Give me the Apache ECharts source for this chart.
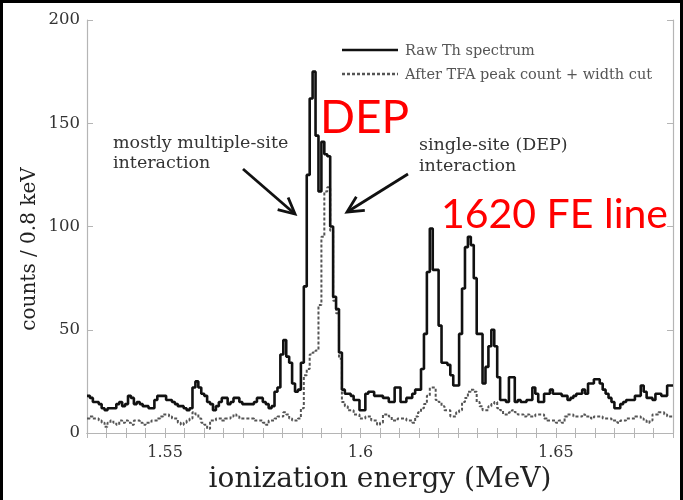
<!DOCTYPE html>
<html>
<head>
<meta charset="utf-8">
<script src="https://cdn.jsdelivr.net/npm/echarts@6/dist/echarts.min.js"></script>
<style>
html,body{margin:0;padding:0;background:#fff;}
#chart{width:683px;height:500px;}
</style>
</head>
<body>
<div id="chart"></div>
<script>
// ---- data ----
var X_START = 1.53;          // MeV, left edge of first bin
var BIN_WIDTH = 0.00075;     // MeV per bin
var xTickLabels = [1.55, 1.6, 1.65];
var yTicks = [0, 50, 100, 150, 200];
var seriesNames = ['Raw Th spectrum', 'After TFA peak count + width cut'];

var rawCounts = [
 18,17,15,15,14,12,11,12,12,12,
 14,15,13,14,18,17,14,15,14,13,
 13,12,12,16,18,18,18,16,16,15,
 14,13,13,12,11,12,22,25,22,19,
 18,15,14,11,13,15,17,17,14,15,
 17,17,15,14,14,14,14,15,17,17,
 15,14,12,13,20,22,38,45,37,34,
 24,20,21,34,71,125,162,175,144,117,
 141,135,134,100,66,60,39,21,19,19,
 18,16,16,11,11,19,20,20,18,18,
 18,17,17,15,15,22,22,15,15,17,
 17,19,21,21,31,48,78,99,79,79,
 52,34,34,33,28,23,23,48,70,90,
 95,91,75,48,48,24,32,42,50,42,
 27,16,16,15,27,27,15,16,15,15,
 16,16,22,19,15,15,19,19,21,19,
 19,19,18,18,16,17,18,19,19,21,
 19,24,24,26,26,24,21,19,17,15,
 12,12,14,15,16,16,16,18,18,23,
 20,17,17,16,19,19,18,18,23,23
];

var cutCounts = [
 7,8,7,7,6,5,3,5,6,5,
 4,6,5,6,5,4,6,6,5,4,
 5,5,6,6,7,8,9,9,8,7,
 7,5,4,5,6,7,10,9,7,5,
 4,2,6,6,7,7,6,7,7,8,
 9,8,7,7,7,7,7,6,6,6,
 5,4,6,6,7,8,8,10,9,7,
 6,6,7,12,28,31,38,39,40,62,
 95,117,119,98,64,58,36,15,13,11,
 11,9,9,7,7,8,8,6,6,4,
 5,9,9,8,6,6,7,7,7,6,
 6,5,8,10,12,14,18,22,22,16,
 15,13,11,11,8,8,10,11,15,17,
 20,21,20,15,13,11,11,13,14,15,
 12,11,9,9,10,11,10,9,9,8,
 9,8,8,9,9,9,7,6,6,6,
 5,6,5,8,9,9,8,8,8,9,
 8,8,7,8,8,8,7,7,7,6,
 6,5,6,6,7,7,7,8,8,7,
 6,5,6,9,9,10,10,9,8,8
];

function toSteps(counts){
  var pts = [];
  for (var i = 0; i < counts.length; i++) {
    pts.push([X_START + i * BIN_WIDTH, counts[i]]);
  }
  pts.push([X_START + counts.length * BIN_WIDTH, counts[counts.length - 1]]);
  return pts;
}
var X_END = X_START + rawCounts.length * BIN_WIDTH;

var serif = 'DejaVu Serif';
var axisGrey = '#b5b5b5';
var rawStyle = {color:'#111', width:2.6};
var cutStyle = {color:'#555', width:2, type:[3,2]};

var chart = echarts.init(document.getElementById('chart'));

function arrow(tail, tip){
  var dx = tip[0]-tail[0], dy = tip[1]-tail[1];
  var L = Math.sqrt(dx*dx+dy*dy); var ux = dx/L, uy = dy/L;
  var hl = 16, hw = 8;
  var bx = tip[0]-ux*hl, by = tip[1]-uy*hl;
  var p1 = [bx - uy*hw, by + ux*hw], p2 = [bx + uy*hw, by - ux*hw];
  return [
    {type:'line', shape:{x1:tail[0],y1:tail[1],x2:tip[0]-ux*2,y2:tip[1]-uy*2}, style:{stroke:'#111',lineWidth:2.8}},
    {type:'polyline', shape:{points:[p1, tip, p2]}, style:{stroke:'#111',lineWidth:2.8,fill:null}}
  ];
}

var graphics = [
  {type:'rect', shape:{x:1.5,y:1.5,width:680,height:530}, style:{fill:null,stroke:'#000',lineWidth:3}},
  // y axis title
  {type:'text', x:30, y:249, rotation:Math.PI/2, style:{text:'counts / 0.8 keV', font:'20px "DejaVu Serif"', fill:'#222', align:'center', verticalAlign:'middle'}},
  // legend
  {type:'line', shape:{x1:342,y1:50,x2:398,y2:50}, style:{stroke:rawStyle.color,lineWidth:2.6}},
  {type:'line', shape:{x1:342,y1:74,x2:398,y2:74}, style:{stroke:cutStyle.color,lineWidth:2.6,lineDash:[3,2]}},
  {type:'text', x:405, y:51, style:{text:seriesNames[0], font:'14.5px "DejaVu Serif"', fill:'#555', verticalAlign:'middle'}},
  {type:'text', x:405, y:75, style:{text:seriesNames[1], font:'14.5px "DejaVu Serif"', fill:'#555', verticalAlign:'middle'}},
  // annotations
  {type:'text', x:113, y:143, style:{text:'mostly multiple-site', font:'17.5px "DejaVu Serif"', fill:'#333', verticalAlign:'middle'}},
  {type:'text', x:113, y:163, style:{text:'interaction', font:'17.5px "DejaVu Serif"', fill:'#333', verticalAlign:'middle'}},
  {type:'text', x:419, y:145, style:{text:'single-site (DEP)', font:'17.5px "DejaVu Serif"', fill:'#333', verticalAlign:'middle'}},
  {type:'text', x:419, y:166, style:{text:'interaction', font:'17.5px "DejaVu Serif"', fill:'#333', verticalAlign:'middle'}},
  {type:'text', left:320, top:95, style:{text:'DEP', font:'46px Lato', fill:'#ff0000'}},
  {type:'text', left:441, top:194, style:{text:'1620 FE line', font:'41px Lato', fill:'#ff0000'}}
].concat(arrow([243,169],[295,214])).concat(arrow([408,174],[347,212]));

var option = {
  backgroundColor:'#fff',
  animation:false,
  grid:{left:87, right:10, top:20, bottom:67, containLabel:false},
  xAxis:[{
    type:'value', min:X_START, max:X_END, interval:0.005,
    axisLine:{show:true, lineStyle:{color:axisGrey, width:1.2}},
    axisTick:{show:true, inside:true, length:5, lineStyle:{color:axisGrey}},
    axisLabel:{show:true, customValues:xTickLabels, formatter:function(v){return String(Math.round(v*100)/100);}, fontFamily:serif, fontSize:16, color:'#333', margin:12},
    splitLine:{show:false},
    name:'ionization energy (MeV)', nameLocation:'middle', nameGap:30,
    nameTextStyle:{fontFamily:serif, fontSize:28, color:'#222'}
  },{
    type:'value', position:'top', min:X_START, max:X_END, interval:0.005,
    axisLine:{show:true, lineStyle:{color:axisGrey, width:1.2}},
    axisTick:{show:true, inside:true, length:5, lineStyle:{color:axisGrey}},
    axisLabel:{show:false}, splitLine:{show:false}
  }],
  yAxis:[{
    type:'value', min:0, max:200, interval:50,
    axisLine:{show:true, lineStyle:{color:axisGrey, width:1.2}},
    axisTick:{show:true, inside:true, length:6, lineStyle:{color:axisGrey}},
    axisLabel:{fontFamily:serif, fontSize:16.5, color:'#333', margin:7},
    splitLine:{show:false}
  },{
    type:'value', position:'right', min:0, max:200, interval:50,
    axisLine:{show:true, lineStyle:{color:axisGrey, width:1.2}},
    axisTick:{show:true, inside:true, length:6, lineStyle:{color:axisGrey}},
    axisLabel:{show:false}, splitLine:{show:false}
  }],
  series:[{
    name:seriesNames[0], type:'line', step:'end', symbol:'none',
    data:toSteps(rawCounts),
    lineStyle:rawStyle, itemStyle:{color:rawStyle.color}, z:3
  },{
    name:seriesNames[1], type:'line', step:'end', symbol:'none',
    data:toSteps(cutCounts),
    lineStyle:cutStyle, itemStyle:{color:cutStyle.color}, z:2
  }],
  graphic:graphics
};
chart.setOption(option);
</script>
</body>
</html>
